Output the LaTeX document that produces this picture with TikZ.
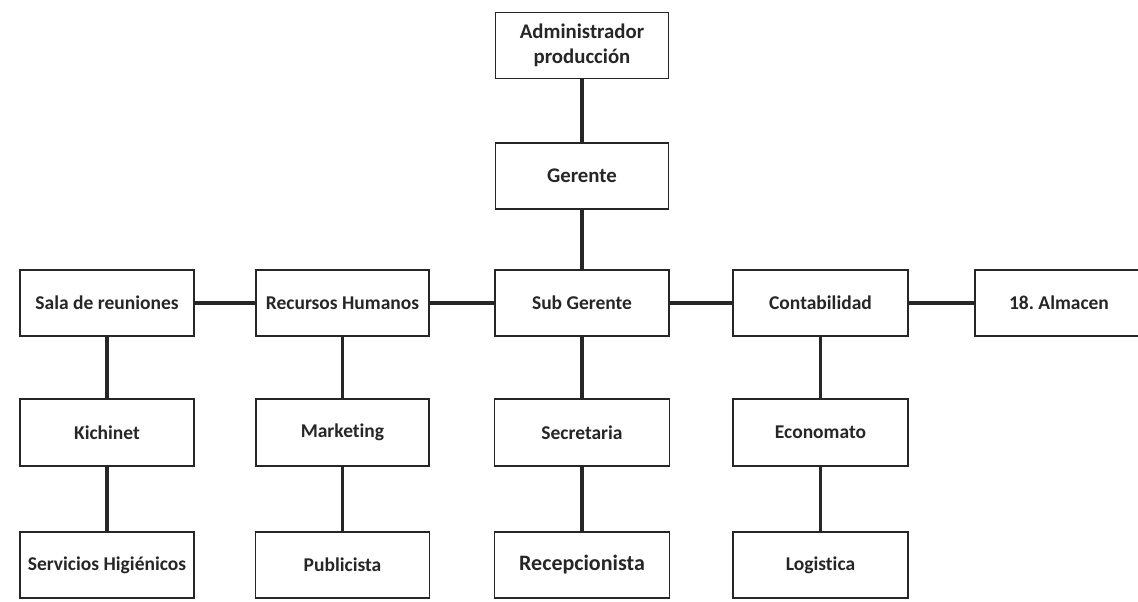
\documentclass[tikz,border=0pt]{standalone}
\usepackage{fontspec}
\setmainfont[Ligatures={NoCommon}]{Carlito}
\frenchspacing
\begin{document}
\begin{tikzpicture}[x=1pt,y=-1pt,
  box/.style={draw=black!85, line width=1.3pt, fill=white, minimum height=66pt, inner sep=0pt,
    font=\fontsize{19.5}{25}\selectfont\bfseries, text=black!85, align=center},
  big/.style={font=\fontsize{20.8}{25.5}\selectfont\bfseries},
  link/.style={line width=3.3pt, draw=black!85}]
\useasboundingbox (0,0) rectangle (1138,602);
% top chain
\node[box, big, minimum width=173pt] (admin) at (582,45.5) {Administrador\\producción};
\node[box, big, minimum width=173pt] (ger) at (582,176) {Gerente};
% row 2
\node[box, minimum width=174pt] (sala) at (107,303) {Sala de reuniones};
\node[box, minimum width=173pt] (rrhh) at (342.5,303) {Recursos Humanos};
\node[box, minimum width=174pt] (sub) at (582,303) {Sub Gerente};
\node[box, minimum width=175pt] (cont) at (820.5,303) {Contabilidad};
\node[box, minimum width=168pt] (alm) at (1059,303) {18. Almacen};
% row 3
\node[box, minimum width=174pt, minimum height=67pt] (kich) at (107,432.5) {Kichinet};
\node[box, minimum width=173pt, minimum height=67pt] (mark) at (342.5,432.5) {\raisebox{2pt}{Marketing}};
\node[box, minimum width=175pt, minimum height=67pt] (secr) at (582,432.5) {Secretaria};
\node[box, minimum width=175pt, minimum height=67pt] (econ) at (820.5,432.5) {Economato};
% row 4
\node[box, minimum width=174pt] (serv) at (107,565) {Servicios Higiénicos};
\node[box, minimum width=174pt] (publ) at (342.5,565) {\raisebox{-2pt}{Publicista}};
\node[box, minimum width=175pt, font=\fontsize{22}{26}\selectfont\bfseries] (recp) at (582,565) {Recepcionista};
\node[box, minimum width=175pt] (logi) at (820.5,565) {\raisebox{-4pt}{Logistica}};
% connectors
\draw[link] (admin) -- (ger);
\draw[link] (ger) -- (sub);
\draw[link] (sala) -- (rrhh);
\draw[link] (rrhh) -- (sub);
\draw[link] (sub) -- (cont);
\draw[link] (cont) -- (alm);
\draw[link] (sala) -- (kich);
\draw[link] (kich) -- (serv);
\draw[link] (rrhh) -- (mark);
\draw[link] (mark) -- (publ);
\draw[link] (sub) -- (secr);
\draw[link] (secr) -- (recp);
\draw[link] (cont) -- (econ);
\draw[link] (econ) -- (logi);
\end{tikzpicture}
\end{document}
